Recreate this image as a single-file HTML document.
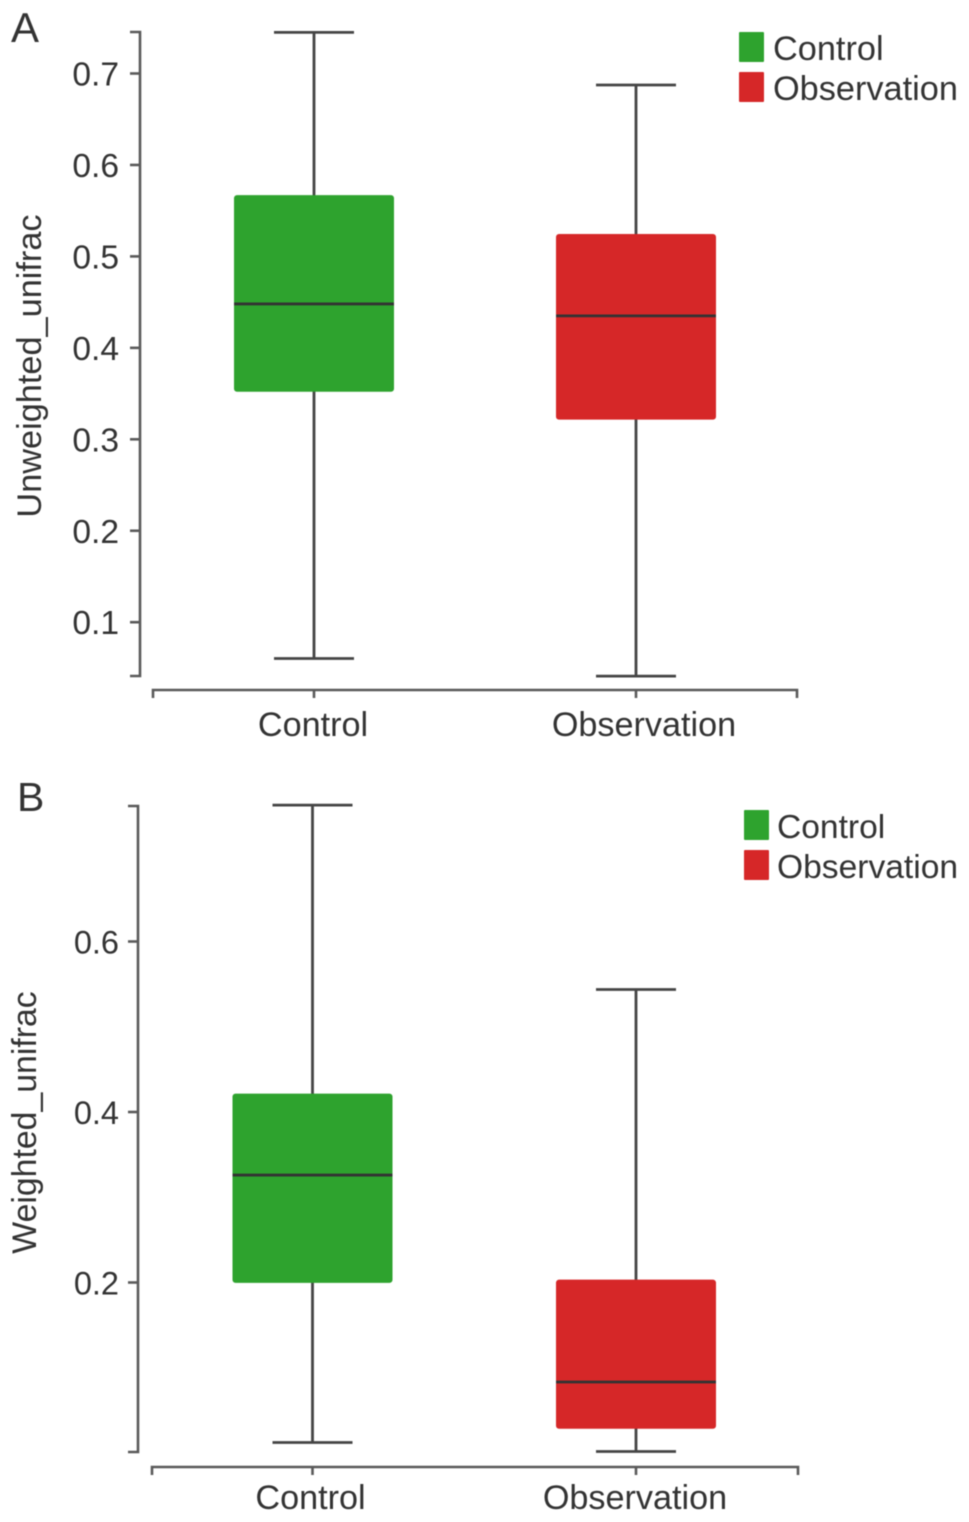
<!DOCTYPE html>
<html lang="en">
<head>
<meta charset="utf-8">
<title>Unifrac box plots</title>
<style>
html,body{margin:0;padding:0;background:#fff;}
svg{display:block;filter:blur(0.45px);}
text{font-family:"Liberation Sans",Arial,sans-serif;fill:#333;}
</style>
</head>
<body>
<svg id="figure" width="969" height="1522" viewBox="0 0 969 1522" xmlns="http://www.w3.org/2000/svg"></svg>
<script>
// Data
var categories = ['Control', 'Observation'];
var colors = ['#2ea32e', '#d62728'];

var panelALabel = 'A';
var panelAYTitle = 'Unweighted_unifrac';
var panelATicks = [0.7, 0.6, 0.5, 0.4, 0.3, 0.2, 0.1];
var panelAWhiskerLow = [0.0603, 0.041];
var panelAQ1 = [0.352, 0.3215];
var panelAMedian = [0.448, 0.435];
var panelAQ3 = [0.567, 0.5245];
var panelAWhiskerHigh = [0.745, 0.6874];

var panelBLabel = 'B';
var panelBYTitle = 'Weighted_unifrac';
var panelBTicks = [0.6, 0.4, 0.2];
var panelBWhiskerLow = [0.0123, 0.0018];
var panelBQ1 = [0.1995, 0.0285];
var panelBMedian = [0.326, 0.0833];
var panelBQ3 = [0.4215, 0.2033];
var panelBWhiskerHigh = [0.76, 0.5437];

var NS = 'http://www.w3.org/2000/svg';
var svg = document.getElementById('figure');

function el(tag, attrs, parent, txt) {
  var e = document.createElementNS(NS, tag);
  for (var k in attrs) e.setAttribute(k, attrs[k]);
  if (txt !== undefined) e.textContent = txt;
  (parent || svg).appendChild(e);
  return e;
}

function drawPanel(p) {
  var g = el('g', {});
  
  

  function y(v) { return p.y0 + (p.v0 - v) * p.scale; }
  var axisColor = '#5a5a5a', whiskerColor = '#454545';

  var label = el('text', {x: p.labelX, y: p.labelY, 'font-size': p.labelFont, fill: '#222'}, g, p.label);
  
  

  var yAxis = el('path', {
    d: 'M' + (p.axisX - 10) + ' ' + p.axisTop + 'H' + p.axisX + 'V' + p.axisBottom + 'H' + (p.axisX - 10),
    fill: 'none', stroke: axisColor, 'stroke-width': 2.6
  }, g);
  
  

  p.ticks.forEach(function (t) {
    var tick = el('line', {x1: p.axisX - 10, x2: p.axisX, y1: y(t), y2: y(t), stroke: axisColor, 'stroke-width': 2.6}, g);
    
    
    var tl = el('text', {x: p.tickLabelX, y: y(t) + 12, 'font-size': p.tickFont, 'text-anchor': 'end'}, g, t.toFixed(1));
    
    
  });

  var title = el('text', {
    transform: 'translate(' + p.titleX + ' ' + p.titleY + ') rotate(-90)',
    'font-size': p.titleFont, 'text-anchor': 'middle'
  }, g, p.yTitle);
  
  

  var xAxis = el('path', {
    d: 'M' + p.xLeft + ' ' + (p.xAxisY + 8) + 'V' + p.xAxisY + 'H' + p.xRight + 'V' + (p.xAxisY + 8),
    fill: 'none', stroke: axisColor, 'stroke-width': 2.6
  }, g);
  
  

  categories.forEach(function (c, i) {
    var cx = p.centers[i];
    var tick = el('line', {x1: cx, x2: cx, y1: p.xAxisY, y2: p.xAxisY + 8, stroke: axisColor, 'stroke-width': 2.6}, g);
    
    
    var xl = el('text', {x: cx + p.catOffset[i], y: p.catY, 'font-size': 34.2, 'text-anchor': 'middle'}, g, c);
    
    

    var whisker = el('line', {x1: cx, x2: cx, y1: y(p.high[i]), y2: y(p.low[i]), stroke: whiskerColor, 'stroke-width': 2.8}, g);
    
    
    [p.high[i], p.low[i]].forEach(function (v) {
      var cap = el('line', {x1: cx - 40, x2: cx + 40, y1: y(v), y2: y(v), stroke: whiskerColor, 'stroke-width': 2.8}, g);
      
      
    });
    var box = el('rect', {
      x: cx - 80, width: 160, y: y(p.q3[i]), height: y(p.q1[i]) - y(p.q3[i]),
      rx: 3, ry: 3, fill: colors[i]
    }, g);
    
    
    var med = el('line', {x1: cx - 80, x2: cx + 80, y1: y(p.median[i]), y2: y(p.median[i]), stroke: '#333', 'stroke-width': 2.8}, g);
    
    

    var swatch = el('rect', {x: p.legendX, y: p.legendYs[i], width: p.swatchW, height: 30, rx: 1, fill: colors[i]}, g);
    
    
    var lt = el('text', {x: p.legendTextX, y: p.legendYs[i] + 28, 'font-size': p.legendFont}, g, c);
    
    
  });
}

drawPanel({
  label: panelALabel, labelX: 11, labelY: 42, labelFont: 42,
  yTitle: panelAYTitle, ticks: panelATicks,
  low: panelAWhiskerLow, q1: panelAQ1, median: panelAMedian, q3: panelAQ3, high: panelAWhiskerHigh,
  y0: 73.5, v0: 0.7, scale: 914.5,
  axisX: 140, axisTop: 32, axisBottom: 676,
  tickLabelX: 119, tickFont: 33.6,
  titleX: 41, titleY: 366, titleFont: 34.3,
  xLeft: 153, xRight: 797, xAxisY: 690, centers: [314, 636], catOffset: [-1, 8], catY: 736,
  legendX: 739, legendYs: [32, 72], swatchW: 25, legendTextX: 773, legendFont: 34.3
});

drawPanel({
  label: panelBLabel, labelX: 17, labelY: 811, labelFont: 41,
  yTitle: panelBYTitle, ticks: panelBTicks,
  low: panelBWhiskerLow, q1: panelBQ1, median: panelBMedian, q3: panelBQ3, high: panelBWhiskerHigh,
  y0: 941.5, v0: 0.6, scale: 852.5,
  axisX: 138, axisTop: 806, axisBottom: 1452,
  tickLabelX: 119, tickFont: 32.5,
  titleX: 36, titleY: 1122.5, titleFont: 33.8,
  xLeft: 152, xRight: 798, xAxisY: 1467, centers: [312.5, 636], catOffset: [-2, -1], catY: 1509,
  legendX: 744, legendYs: [810, 850], swatchW: 25, legendTextX: 777, legendFont: 33.6
});
</script>
</body>
</html>
